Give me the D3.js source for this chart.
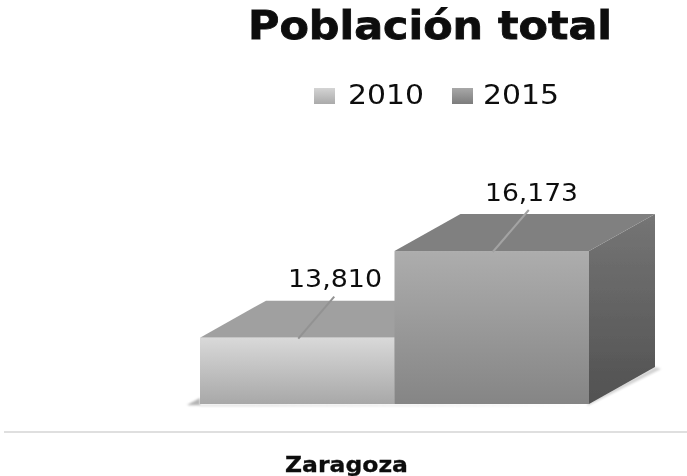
<!DOCTYPE html>
<html><head><meta charset="utf-8">
<script src="https://cdn.jsdelivr.net/npm/d3@7"></script>
<style>html,body{margin:0;padding:0;background:#fff}svg{display:block}</style>
</head><body><svg id="c" width="687" height="476"></svg>
<script>
const categories = ["Zaragoza"];
const seriesNames = ["2010", "2015"];
const values2010 = [13810];
const values2015 = [16173];
const titleText = "Población total";

const svg = d3.select("#c");
const defs = svg.append("defs");
const font = "'DejaVu Sans', Verdana, sans-serif";
defs.append("filter").attr("id","soft").attr("filterUnits","userSpaceOnUse").attr("x",0).attr("y",0).attr("width",687).attr("height",476)
  .append("feGaussianBlur").attr("stdDeviation",0.7);
defs.append("filter").attr("id","softer").attr("filterUnits","userSpaceOnUse").attr("x",0).attr("y",0).attr("width",687).attr("height",476)
  .append("feGaussianBlur").attr("stdDeviation",1.3);
function grad(id, a, b){
  const g = defs.append("linearGradient").attr("id",id).attr("x1",0).attr("y1",0).attr("x2",0).attr("y2",1);
  g.append("stop").attr("offset",0).attr("stop-color",a);
  g.append("stop").attr("offset",1).attr("stop-color",b);
}
grad("f0","#d9d9d9","#a8a8a8");
grad("f1","#adadad","#858585");
grad("s1","#757575","#515151");
grad("l0","#d4d4d4","#aaaaaa");
grad("l1","#a8a8a8","#7c7c7c");

const x = d3.scaleBand().domain(seriesNames).range([200,589]).padding(0);
const y = d3.scaleLinear().domain([12000,17000]).range([404,220.7]);
const dx = 66, dy = -37;
const base = y.range()[0];
const bars = [
  {s:"2010", v:values2010[0], front:"url(#f0)", top:"#a0a0a0", side:"#8a8a8a", lead:"#929292"},
  {s:"2015", v:values2015[0], front:"url(#f1)", top:"#808080", side:"url(#s1)", lead:"#a3a3a3"}
];
const poly = pts => pts.map(p=>p.join(",")).join(" ");
const xl = x.range()[0], xr = x.range()[1];

// floor shadow
svg.append("polygon").attr("filter","url(#softer)").attr("fill","#b4b4b4")
  .attr("points", poly([[xl-13,base+1],[xl,base-6],[xl,base+2],[xr,base+2]]));
svg.append("polygon").attr("filter","url(#softer)").attr("fill","#d2d2d2")
  .attr("points", poly([[xr-2,base+2],[xr+dx+6,base+dy+2],[xr+dx,base+dy],[xr,base-2]]));

const g = svg.append("g").attr("filter","url(#soft)");
bars.forEach(b=>{
  const x0 = x(b.s), x1 = x0 + x.bandwidth(), t = y(b.v);
  g.append("polygon").attr("fill",b.side).attr("points",poly([[x1,base],[x1,t],[x1+dx,t+dy],[x1+dx,base+dy]]));
  g.append("polygon").attr("fill",b.top).attr("points",poly([[x0,t],[x0+dx,t+dy],[x1+dx,t+dy],[x1,t]]));
  g.append("rect").attr("x",x0).attr("y",t).attr("width",x.bandwidth()).attr("height",base-t).attr("fill",b.front);
  const cx = x0 + x.bandwidth()/2;
  g.append("line").attr("x1",cx+1).attr("y1",t+1).attr("x2",cx+37).attr("y2",t-41)
    .attr("stroke", b.lead).attr("stroke-width",2);
});

// axis
g.append("line").attr("x1",4).attr("x2",687).attr("y1",432).attr("y2",432).attr("stroke","#d4d4d4").attr("stroke-width",1.5);

function txt(s,xp,yp,size,weight,len,sw){
  return g.append("text").attr("x",xp).attr("y",yp).attr("font-family",font).attr("font-size",size)
    .attr("font-weight",weight).attr("fill","#111").attr("stroke","#111").attr("stroke-width",sw||0)
    .attr("textLength",len).attr("lengthAdjust","spacingAndGlyphs").text(s);
}
txt(titleText,248,39,39,"bold",364,0.8);
const legX = [314,452], legTxt = [348,483];
seriesNames.forEach((s,i)=>{
  g.append("rect").attr("x",legX[i]).attr("y",88).attr("width",21).attr("height",16).attr("fill",`url(#l${i})`);
  txt(s,legTxt[i],104,26,"normal",76);
});
const fmt = d3.format(",");
txt(fmt(values2010[0]),288,287,24,"normal",94);
txt(fmt(values2015[0]),485,201,24,"normal",93);
txt(categories[0],285,472,21,"bold",123,0.3);
</script></body></html>
